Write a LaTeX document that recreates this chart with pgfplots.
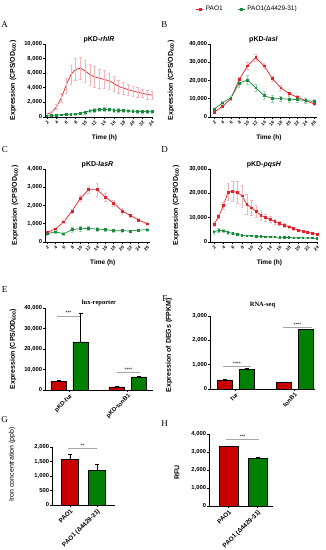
\documentclass[border=0pt]{standalone}
\usepackage{pgfplots}
\pgfplotsset{compat=1.18}
\usepackage{fontspec}
\setmainfont{Liberation Sans}
\newfontfamily\serif{Liberation Serif}
\definecolor{lred}{RGB}{228,32,40}
\definecolor{lgreen}{RGB}{24,140,60}
\definecolor{ered}{RGB}{246,180,186}
\definecolor{egreen}{RGB}{150,215,172}
\definecolor{bred}{RGB}{200,0,0}
\definecolor{bgreen}{RGB}{0,128,0}
\tikzset{
  sig/.style={gray!70, line width=0.4pt},
  star/.style={above, inner sep=0.6pt, font=\fontsize{5}{5}\selectfont, black},
}
\pgfplotsset{
  gp/.style={
    scale only axis, axis lines=left, axis line style={-, line width=0.7pt},
    tick align=outside, major tick length=1.8pt,
    tick style={line width=0.6pt, black},
    ticklabel style={font=\fontsize{5.8}{6}\selectfont\bfseries, inner sep=1pt},
    /pgf/number format/1000 sep={,},
    /pgf/number format/assume math mode=true,
    scaled y ticks=false, ymin=0, clip=false,
    every axis y label/.style={rotate=90, anchor=center, font=\fontsize{7}{8}\selectfont\bfseries},
    every axis x label/.style={anchor=center, font=\fontsize{6.5}{7}\selectfont\bfseries},
    every axis title/.style={at={(axis description cs:0.5,1)}, anchor=south, inner sep=1pt, font=\fontsize{7}{8}\selectfont\bfseries},
  },
  lc/.style={gp,
    xticklabel style={rotate=45, anchor=north east, font=\fontsize{4.5}{5}\selectfont\bfseries},
    xlabel={Time (h)},
    ylabel={Expression (CPS/OD\textsubscript{600})},
    xlabel style={at={(axis description cs:0.55,-0.29)}},
  },
  bc/.style={gp,
    xticklabel style={rotate=45, anchor=north east, font=\fontsize{6}{6}\selectfont\bfseries},
  },
  rl/.style={color=lred, line width=0.7pt, mark=square*, mark size=0.9pt,
     error bars/y dir=both, error bars/y explicit,
     error bars/error bar style={ered, line width=0.4pt},
     error bars/error mark options={ered, mark size=1.3pt, rotate=90}},
  gl/.style={color=lgreen, line width=0.7pt, mark=square*, mark size=0.9pt,
     error bars/y dir=both, error bars/y explicit,
     error bars/error bar style={egreen, line width=0.4pt},
     error bars/error mark options={egreen, mark size=1.3pt, rotate=90}},
  br/.style={ybar, bar shift=0pt, fill=bred, draw=black, line width=0.6pt,
     error bars/y dir=plus, error bars/y explicit,
     error bars/error bar style={black, line width=0.6pt},
     error bars/error mark options={black, mark size=2pt, rotate=90}},
  bg/.style={ybar, bar shift=0pt, fill=bgreen, draw=black, line width=0.6pt,
     error bars/y dir=plus, error bars/y explicit,
     error bars/error bar style={black, line width=0.6pt},
     error bars/error mark options={black, mark size=2pt, rotate=90}},
}
\begin{document}
\begin{tikzpicture}
\path[use as bounding box] (0pt,0pt) rectangle (326pt,550pt);
% panel letters
\begin{scope}[every node/.style={font=\serif\fontsize{9}{9}\selectfont, anchor=center, inner sep=0pt}]
\node at (4.5pt,525pt) {A};
\node at (164.5pt,525pt) {B};
\node at (5pt,400pt) {C};
\node at (164.5pt,400pt) {D};
\node at (4.5pt,260.5pt) {E};
\node at (165pt,251pt) {F};
\node at (4.5pt,130pt) {G};
\node at (164.5pt,126pt) {H};
\end{scope}

% ---------------- A ----------------
\begin{axis}[lc, at={(45pt,433pt)}, anchor=south west, width=108pt, height=73pt,
  xmin=1.6, xmax=24.2, ymax=10000, ytick={0,2000,...,10000}, xtick={2,4,...,24},
  title={pKD-\textit{rhlR}},
  ylabel style={at={(axis description cs:-0.296,0.5)}}]
\addplot[rl, mark=none] coordinates {
(2,400) +- (0,100) (3,600) +- (0,150) (4,1400) +- (0,300) (5,2600) +- (0,600)
(6,4300) +- (0,1000) (7,5800) +- (0,1300) (8,6500) +- (0,1500) (9,6700) +- (0,1500)
(10,6300) +- (0,1500) (11,5800) +- (0,1400) (12,5500) +- (0,1400) (13,5300) +- (0,1300)
(14,5150) +- (0,1200) (15,4950) +- (0,1100) (16,4600) +- (0,1000) (17,4200) +- (0,900)
(18,3950) +- (0,800) (19,3750) +- (0,800) (20,3550) +- (0,700) (21,3400) +- (0,700)
(22,3250) +- (0,600) (23,3100) +- (0,600) (24,3000) +- (0,600)};
\addplot[gl] coordinates {
(2,150) +- (0,80) (3,200) +- (0,80) (4,250) +- (0,100) (5,300) +- (0,100)
(6,350) +- (0,100) (7,380) +- (0,120) (8,420) +- (0,120) (9,500) +- (0,150)
(10,650) +- (0,200) (11,850) +- (0,250) (12,950) +- (0,250) (13,1000) +- (0,250)
(14,1030) +- (0,250) (15,1000) +- (0,250) (16,950) +- (0,250) (17,900) +- (0,250)
(18,860) +- (0,200) (19,830) +- (0,200) (20,800) +- (0,200) (21,780) +- (0,200)
(22,750) +- (0,200) (23,730) +- (0,200) (24,720) +- (0,200)};
\end{axis}

% ---------------- B ----------------
\begin{axis}[lc, at={(210pt,433pt)}, anchor=south west, width=107pt, height=73pt,
  xmin=1.0, xmax=26.7, ymax=40000, ytick={0,10000,...,40000}, xtick={2,4,...,26},
  title={pKD-\textit{lasI}},
  ylabel style={at={(axis description cs:-0.364,0.5)}},
  legend style={at={(axis description cs:0.35,1.48)}, anchor=center, draw=none, fill=none,
    font=\fontsize{6.5}{8}\selectfont, legend columns=2, inner sep=0pt,
    /tikz/every even column/.append style={column sep=13pt}},
  legend image code/.code={\draw[mark repeat=2,mark phase=2,#1] plot coordinates {(0pt,0pt) (3.5pt,0pt) (7pt,0pt)};}]
\addplot[rl] coordinates {
(2,2700) +- (0,500) (4,5800) +- (0,700) (6,10000) +- (0,900) (8,20500) +- (0,1500)
(10,28000) +- (0,2000) (12,32500) +- (0,2000) (14,28000) +- (0,1500) (16,21000) +- (0,1300)
(18,16000) +- (0,1200) (20,12800) +- (0,1000) (22,10800) +- (0,1000) (24,9000) +- (0,900) (26,7200) +- (0,800)};
\addplot[gl] coordinates {
(2,4300) +- (0,500) (4,7800) +- (0,700) (6,10500) +- (0,900) (8,18500) +- (0,2000)
(10,20300) +- (0,2500) (12,16000) +- (0,2000) (14,11800) +- (0,2200) (16,10100) +- (0,1800)
(18,10000) +- (0,1500) (20,9800) +- (0,1500) (22,9500) +- (0,1200) (24,9000) +- (0,1200) (26,8500) +- (0,1200)};
\legend{PAO1, PAO1(Δ4429-31)}
\end{axis}

% ---------------- C ----------------
\begin{axis}[lc, at={(45pt,308pt)}, anchor=south west, width=105pt, height=73pt,
  xmin=1.5, xmax=26.7, ymax=4000, ytick={0,1000,...,4000}, xtick={2,4,...,26},
  title={pKD-\textit{lasR}},
  ylabel style={at={(axis description cs:-0.286,0.5)}}]
\addplot[rl] coordinates {
(2,520) +- (0,40) (4,720) +- (0,60) (6,1100) +- (0,80) (8,1700) +- (0,100)
(10,2400) +- (0,150) (12,2870) +- (0,200) (14,2870) +- (0,350) (16,2450) +- (0,200)
(18,2130) +- (0,180) (20,1700) +- (0,150) (22,1450) +- (0,100) (24,1200) +- (0,80) (26,1000) +- (0,60)};
\addplot[gl] coordinates {
(2,450) +- (0,60) (4,560) +- (0,60) (6,450) +- (0,60) (8,680) +- (0,120)
(10,730) +- (0,150) (12,740) +- (0,120) (14,710) +- (0,100) (16,680) +- (0,80)
(18,620) +- (0,60) (20,620) +- (0,60) (22,600) +- (0,60) (24,660) +- (0,60) (26,670) +- (0,60)};
\end{axis}

% ---------------- D ----------------
\begin{axis}[lc, at={(210pt,308pt)}, anchor=south west, width=108pt, height=73pt,
  xmin=1.15, xmax=24.2, ymax=30000, ytick={0,10000,20000,30000}, xtick={2,4,...,24},
  title={pKD-\textit{pqsH}},
  ylabel style={at={(axis description cs:-0.315,0.5)}}]
\addplot[rl] coordinates {
(2,7200) +- (0,800) (3,10500) +- (0,1000) (4,15000) +- (0,1500) (5,20500) +- (0,3500)
(6,20800) +- (0,4000) (7,20300) +- (0,4500) (8,19000) +- (0,4500) (9,15500) +- (0,4000)
(10,14000) +- (0,3000) (11,12500) +- (0,2500) (12,11000) +- (0,2000) (13,10000) +- (0,1500)
(14,9200) +- (0,1200) (15,8400) +- (0,1000) (16,7600) +- (0,900) (17,6900) +- (0,800)
(18,6200) +- (0,700) (19,5500) +- (0,600) (20,4900) +- (0,500) (21,4400) +- (0,500)
(22,4000) +- (0,400) (23,3600) +- (0,400) (24,3300) +- (0,300)};
\addplot[gl, mark size=0.7pt] coordinates {
(2,4200) +- (0,800) (3,4800) +- (0,700) (4,4600) +- (0,700) (5,4000) +- (0,600)
(6,3500) +- (0,500) (7,3100) +- (0,400) (8,2800) +- (0,300) (9,2600) +- (0,300)
(10,2500) +- (0,250) (11,2400) +- (0,250) (12,2300) +- (0,250) (13,2200) +- (0,200)
(14,2100) +- (0,200) (15,2000) +- (0,200) (16,1950) +- (0,200) (17,1900) +- (0,200)
(18,1850) +- (0,200) (19,1800) +- (0,200) (20,1750) +- (0,200) (21,1700) +- (0,200)
(22,1650) +- (0,200) (23,1600) +- (0,200) (24,1550) +- (0,200)};
\end{axis}

% ---------------- E ----------------
\begin{axis}[bc, at={(45pt,160pt)}, anchor=south west, width=108pt, height=82pt,
  xmin=0, xmax=108, ymax=40000, ytick={0,10000,...,40000},
  xtick={24.5,82.75}, xticklabels={pKD-fur, pKD-tonB1},
  title={lux-reporter}, title style={font=\serif\fontsize{6.5}{7}\selectfont\bfseries, yshift=0.5pt},
  ylabel={Expression (CPS/OD\textsubscript{600})},
  ylabel style={at={(axis description cs:-0.296,0.5)}}]
\addplot[br, bar width=15] coordinates {(13.5,4200) +- (0,400) (71.5,1500) +- (0,300)};
\addplot[bg, bar width=15] coordinates {(35.5,23500) +- (0,14000) (94,6400) +- (0,400)};
\draw[sig] (axis cs:12,36200) -- (axis cs:35,36200) node[midway, star] {***};
\draw[sig] (axis cs:72,8800) -- (axis cs:95,8800) node[midway, star] {****};
\end{axis}

% ---------------- F ----------------
\begin{axis}[bc, at={(210pt,161pt)}, anchor=south west, width=105pt, height=73pt,
  xmin=0, xmax=105, ymax=3000, ytick={0,1000,2000,3000},
  xtick={25.5,84.5}, xticklabels={fur, tonB1},
  title={RNA-seq}, title style={font=\serif\fontsize{6.5}{7}\selectfont\bfseries, yshift=7pt},
  ylabel={Expression of DEGs (FPKM)},
  ylabel style={at={(axis description cs:-0.39,0.6)}}]
\addplot[br, bar width=15] coordinates {(14.5,370) +- (0,15) (73.5,260) +- (0,10)};
\addplot[bg, bar width=15] coordinates {(36.5,820) +- (0,20) (95.5,2450) +- (0,20)};
\draw[sig] (axis cs:13,945) -- (axis cs:41,945) node[midway, star] {****};
\draw[sig] (axis cs:73,2550) -- (axis cs:102,2550) node[midway, star] {****};
\end{axis}

% ---------------- G ----------------
\begin{axis}[bc, at={(52pt,45pt)}, anchor=south west, width=63pt, height=58pt,
  xmin=0, xmax=63, ymax=2000, ytick={0,500,...,2000},
  xtick={18,45}, xticklabels={PAO1, PAO1 (Δ4429-31)},
  xticklabel style={font=\fontsize{6.3}{6}\selectfont\bfseries},
  ylabel={Iron concentration (ppb)},
  ylabel style={font=\fontsize{7}{8}\selectfont, at={(axis description cs:-0.635,0.7)}}]
\addplot[br, bar width=17] coordinates {(18,1580) +- (0,180)};
\addplot[bg, bar width=17] coordinates {(45,1200) +- (0,200)};
\draw[sig] (axis cs:16,1965) -- (axis cs:45,1965) node[midway, star] {**};
\end{axis}

% ---------------- H ----------------
\begin{axis}[bc, at={(209pt,44pt)}, anchor=south west, width=64pt, height=72pt,
  xmin=0, xmax=64, ymax=4000, ytick={0,1000,...,4000},
  xtick={19.5,48.5}, xticklabels={PAO1, PAO1 (Δ4429-31)},
  xticklabel style={font=\fontsize{6.3}{6}\selectfont\bfseries},
  ylabel={RFU},
  ylabel style={at={(axis description cs:-0.5,0.47)}}]
\addplot[br, bar width=19] coordinates {(19.5,3300) +- (0,40)};
\addplot[bg, bar width=19] coordinates {(48.5,2650) +- (0,40)};
\draw[sig] (axis cs:17,3720) -- (axis cs:50,3720) node[midway, star] {***};
\end{axis}
\end{tikzpicture}
\end{document}
